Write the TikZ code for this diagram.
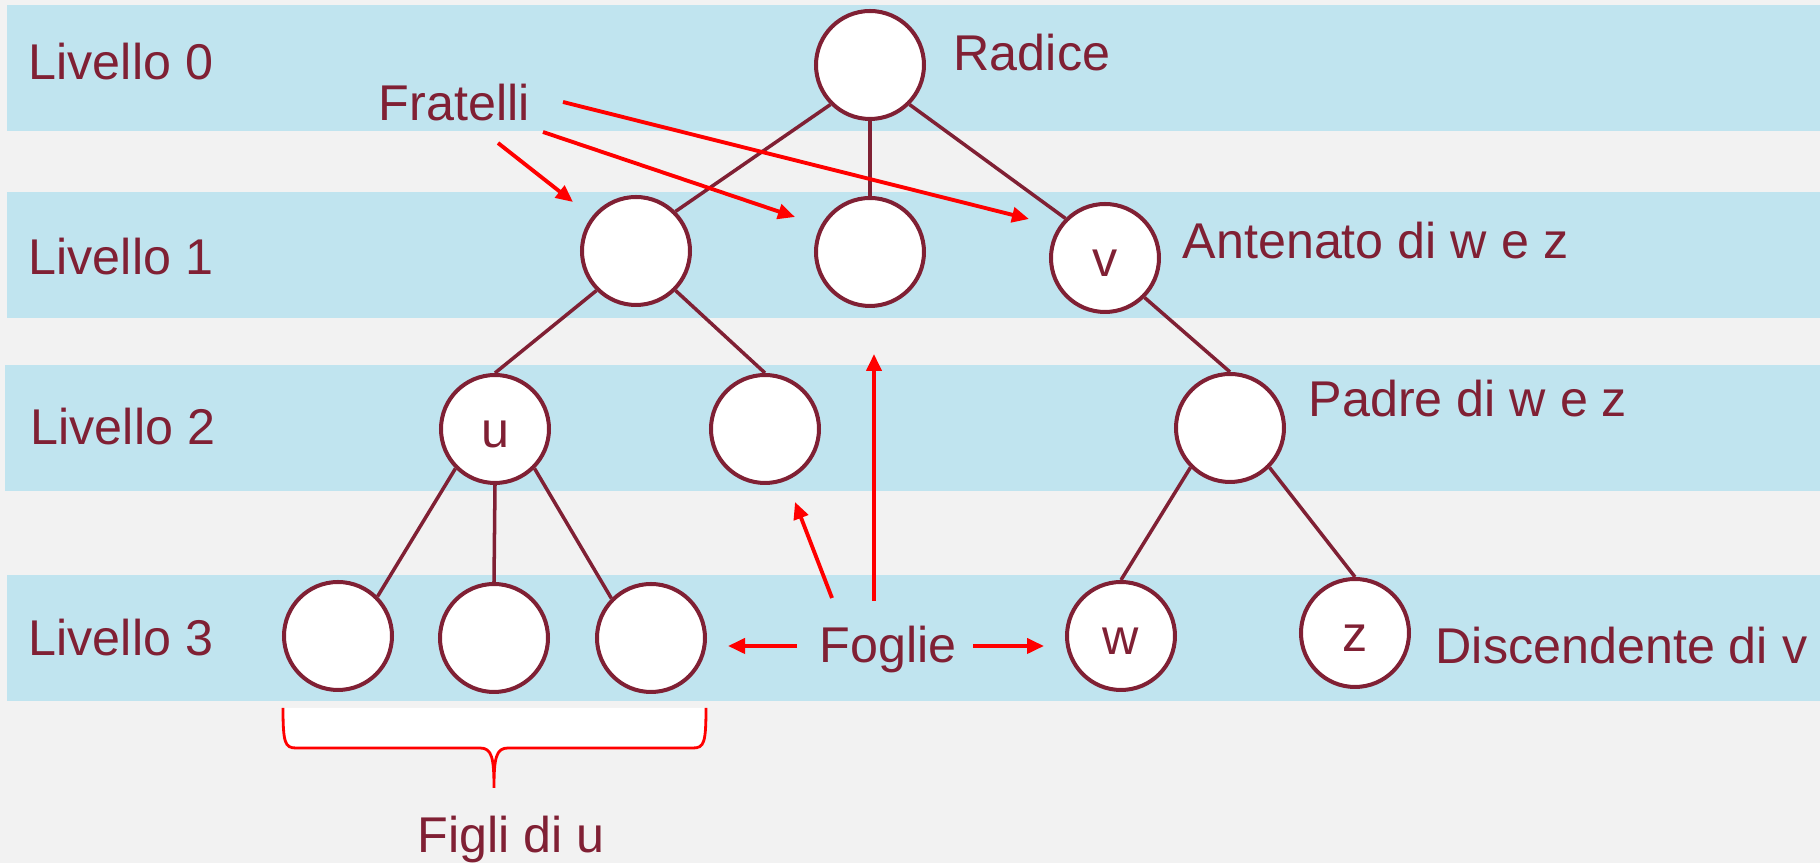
\documentclass[tikz,border=0pt]{standalone}
\usepackage{fontspec}
\setmainfont{Liberation Sans}
\usepackage{tikz}
\usetikzlibrary{arrows.meta}
\usepackage{xcolor}
\definecolor{bordo}{RGB}{128,32,52}
\definecolor{fascia}{RGB}{192,228,239}
\definecolor{sfondo}{RGB}{242,242,242}

\begin{document}
\begin{tikzpicture}[
		nodo/.style={circle,draw=bordo,line width=1.14pt,fill=white,minimum size=1.08cm,inner sep=0pt,text=bordo,font=\fontsize{14.3}{17}\selectfont,text height=0.475cm,text depth=0.105cm},
		testo/.style={anchor=base west,inner sep=0pt,text=bordo,font=\fontsize{14.3}{17}\selectfont},
		arco/.style={bordo,line width=1pt},
		freccia/.style={red,line width=1.1pt,-{Triangle[length=0.17cm,width=0.15cm]}}
	]
			\useasboundingbox (0,0) rectangle (18.2,8.63);
			\fill[sfondo] (0,0) rectangle (18.2,8.63);
			% fasce dei livelli
			\fill[fascia] (0.07,8.58) rectangle (18.2,7.32);
			\fill[fascia] (0.07,6.71) rectangle (18.2,5.45);
			\fill[fascia] (0.05,4.98) rectangle (18.2,3.72);
			\fill[fascia] (0.07,2.88) rectangle (18.2,1.62);
			\node[testo] (L0) at (0.28,7.83) {Livello 0};
			\node[testo] (L1) at (0.28,5.88) {Livello 1};
			\node[testo] (L2) at (0.30,4.18) {Livello 2};
			\node[testo] (L3) at (0.28,2.07) {Livello 3};
			% nodi
			\node[nodo] (r) at (8.70,7.98) {};
			\node[nodo] (f1) at (6.36,6.12) {};
			\node[nodo] (f2) at (8.70,6.11) {};
			\node[nodo] (v) at (11.05,6.05) {v};
			\node[nodo] (u) at (4.95,4.34) {u};
			\node[nodo] (n2) at (7.65,4.34) {};
			\node[nodo] (p) at (12.30,4.35) {};
			\node[nodo] (c1) at (3.38,2.27) {};
			\node[nodo] (c2) at (4.94,2.25) {};
			\node[nodo] (c3) at (6.51,2.25) {};
			\node[nodo] (w) at (11.21,2.27) {w};
			\node[nodo] (z) at (13.55,2.30) {z};
			\draw[arco] (r.south west) -- (f1.north east);
			\draw[arco] (r.south) -- (f2.north);
			\draw[arco] (r.south east) -- (v.north west);
			\draw[arco] (f1.south west) -- (u.north);
			\draw[arco] (f1.south east) -- (n2.north);
			\draw[arco] (v.south east) -- (p.north);
			\draw[arco] (u.south west) -- (c1.north east);
			\draw[arco] (u.south) -- (c2.north);
			\draw[arco] (u.south east) -- (c3.north west);
			\draw[arco] (p.south west) -- (w.north);
			\draw[arco] (p.south east) -- (z.north);
			% etichette
			\node[testo] (rad) at (9.53,7.92) {Radice};
			\node[testo] (fra) at (3.78,7.42) {Fratelli};
			\node[testo] (ant) at (11.82,6.04) {Antenato di w e z};
			\node[testo] (pad) at (13.08,4.46) {Padre di w e z};
			\node[testo] (dis) at (14.35,1.99) {Discendente di v};
			\node[testo] (fog) at (8.19,2.00) {Foglie};
			\node[testo] (fig) at (4.17,0.10) {Figli di u};
			% frecce
			\coordinate (a1) at (4.98,7.20);
			\coordinate (b1) at (5.73,6.61);
			\coordinate (a2) at (5.43,7.31);
			\coordinate (b2) at (7.95,6.46);
			\coordinate (a3) at (5.63,7.61);
			\coordinate (b3) at (10.29,6.44);
			\coordinate (a4) at (8.74,2.62);
			\coordinate (b4) at (8.74,5.09);
			\coordinate (a5) at (8.32,2.65);
			\coordinate (b5) at (7.95,3.61);
			\coordinate (a6) at (7.97,2.17);
			\coordinate (b6) at (7.28,2.17);
			\coordinate (a7) at (9.73,2.17);
			\coordinate (b7) at (10.44,2.17);
			\foreach \Nombre in {1,...,7}
			\draw[freccia] (a\Nombre) -- (b\Nombre);
			% graffa
			\draw[red,line width=0.8pt,fill=white] (2.83,1.55) .. controls (2.83,1.2) and (2.85,1.15) .. (2.96,1.15) -- (4.80,1.15) .. controls (4.92,1.15) and (4.94,1.05) .. (4.94,0.75) .. controls (4.94,1.05) and (4.96,1.15) .. (5.08,1.15) -- (6.93,1.15) .. controls (7.04,1.15) and (7.06,1.2) .. (7.06,1.55);
		\end{tikzpicture}
\end{document}
